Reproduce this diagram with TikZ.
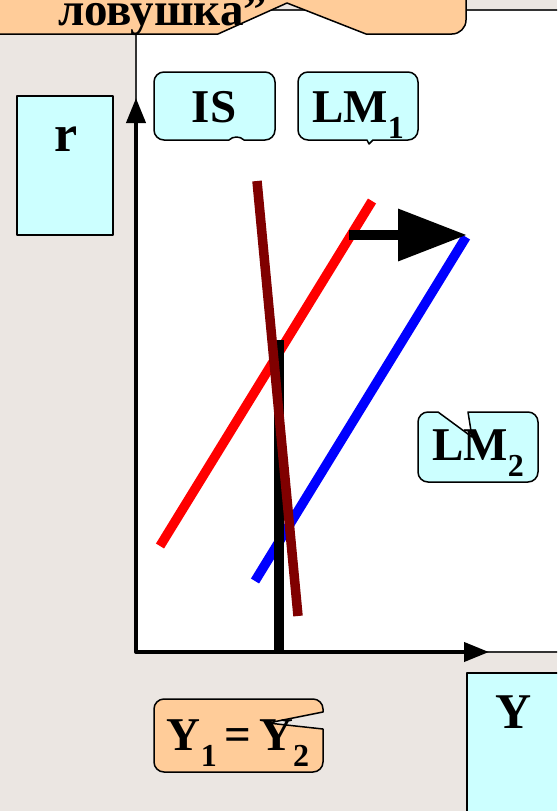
\documentclass[tikz,border=0pt]{standalone}
\usepackage{fontspec}
\setmainfont{Liberation Serif}
\usetikzlibrary{arrows.meta}
\definecolor{bg}{HTML}{EBE6E2}
\definecolor{peach}{HTML}{FFCC99}
\definecolor{pale}{HTML}{CCFFFF}
\definecolor{maroon}{HTML}{800000}
\definecolor{framec}{HTML}{333333}
\newcommand{\lbl}{\fontsize{47}{50}\selectfont\bfseries}
\newcommand{\subs}[1]{\raisebox{-16pt}{\fontsize{32}{34}\selectfont\bfseries #1}}
\begin{document}
\begin{tikzpicture}[x=1pt,y=-1pt,
  frame/.style={draw=framec,line width=1.5pt},
  boxline/.style={draw=black,line width=1.5pt,line join=round},
  curve/.style={line width=9.5pt},
  txt/.style={anchor=base,inner sep=0pt,font=\lbl}]
\useasboundingbox (0,0) rectangle (557,811);
\clip (0,0) rectangle (557,811);
\fill[bg] (0,0) rectangle (557,811);
\fill[white] (136,10) rectangle (560,652);
\draw[frame] (136,10) -- (560,10);
\draw[frame] (136,34) -- (136,100);
\draw[frame] (480,652) -- (560,652);
% top callout
\path[boxline,fill=peach] (-10,-20) -- (466,-20) -- (466,20) arc[start angle=0,end angle=90,radius=14]
  -- (366,34) -- (287,3) -- (218,34) -- (-10,34) -- cycle;
\node[anchor=base west,inner sep=0pt,font=\lbl] (title) at (58,25) {ловушка”};
% r box
\path[boxline,fill=pale] (17,96) rectangle (113,235);
\node[txt,font=\fontsize{52}{54}\selectfont\bfseries] (r) at (66,151) {r};
% Y box
\path[boxline,fill=pale] (467,673) rectangle (570,830);
\node[txt,font=\fontsize{50}{54}\selectfont\bfseries] (Y) at (514,728) {Y};
% axes
\coordinate (top) at (136,98);
\coordinate (origin) at (136,652);
\coordinate (right) at (489,652);
\draw[line width=4pt,line join=round,{Triangle[length=25pt,width=19pt]}-{Triangle[length=25pt,width=19pt]}] (top) -- (origin) -- (right);
% curves
\coordinate (r1) at (160,546); \coordinate (r2) at (372,201);
\coordinate (b1) at (255,581); \coordinate (b2) at (466,237);
\coordinate (k1) at (279,340); \coordinate (k2) at (279,652);
\coordinate (m1) at (257,181); \coordinate (m2) at (298,616);
\draw[curve,red] (r1) -- (r2);
\draw[curve,blue] (b1) -- (b2);
\draw[line width=9.5pt,black] (k1) -- (k2);
\draw[curve,maroon] (m1) -- (m2);
\coordinate (a1) at (349,235); \coordinate (a2) at (467,235);
\draw[line width=10pt,-{Triangle[length=69pt,width=50pt]}] (a1) -- (a2);
% IS callout
\path[boxline,fill=pale] (164,72) -- (265,72) arc[start angle=-90,end angle=0,radius=10]
  -- (275,130) arc[start angle=0,end angle=90,radius=10]
  -- (244,140) .. controls (240,136) and (233,136) .. (229,140)
  -- (164,140) arc[start angle=90,end angle=180,radius=10]
  -- (154,82) arc[start angle=180,end angle=270,radius=10] -- cycle;
\node[txt] (IS) at (214,122) {IS};
% LM1 callout
\path[boxline,fill=pale] (308,72) -- (408,72) arc[start angle=-90,end angle=0,radius=10]
  -- (418,130) arc[start angle=0,end angle=90,radius=10]
  -- (373,140) -- (369,144) -- (367,140)
  -- (308,140) arc[start angle=90,end angle=180,radius=10]
  -- (298,82) arc[start angle=180,end angle=270,radius=10] -- cycle;
\node[txt] (LM1) at (358,122) {LM\subs{1}};
% LM2 callout
\path[boxline,fill=pale] (428,412) -- (438,412) -- (472,437) -- (468,412) -- (528,412) arc[start angle=-90,end angle=0,radius=10]
  -- (538,472) arc[start angle=0,end angle=90,radius=10]
  -- (428,482) arc[start angle=90,end angle=180,radius=10]
  -- (418,422) arc[start angle=180,end angle=270,radius=10] -- cycle;
\node[txt] (LM2) at (478,460) {LM\subs{2}};
% Y1=Y2 callout
\path[boxline,fill=peach] (164,699) -- (313,699) arc[start angle=-90,end angle=0,radius=10]
  -- (323,712) -- (268,723) -- (323,729)
  -- (323,762) arc[start angle=0,end angle=90,radius=10]
  -- (164,772) arc[start angle=90,end angle=180,radius=10]
  -- (154,709) arc[start angle=180,end angle=270,radius=10] -- cycle;
\node[txt] (eq) at (238,750) {Y\subs{1}\,=\,Y\subs{2}};
\end{tikzpicture}
\end{document}
